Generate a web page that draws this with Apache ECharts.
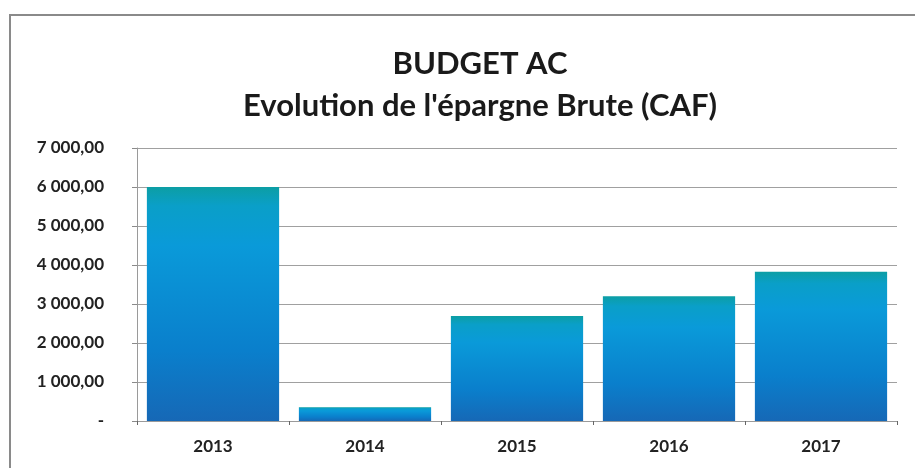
<!DOCTYPE html>
<html>
<head>
<meta charset="utf-8">
<script src="https://cdn.jsdelivr.net/npm/echarts@6/dist/echarts.min.js"></script>
<style>
  html, body { margin: 0; padding: 0; background: #fff; }
  .frame {
    position: absolute; left: 9px; top: 14px; width: 920px; height: 470px;
    border-left: 2px solid #8a8a8a; border-top: 2px solid #8a8a8a;
  }
  #chart { position: absolute; left: 0; top: 0; width: 915px; height: 468px; }
</style>
</head>
<body>
<div class="frame"></div>
<div id="chart"></div>
<script>
// données
const annees = ['2013', '2014', '2015', '2016', '2017']
const epargneBrute = [6000, 350, 2690, 3200, 3830]
const titreLignes = ['BUDGET AC', "Evolution de l'épargne Brute (CAF)"]

const formatMontant = function (v) {
  if (v === 0) return '-'
  const s = v.toFixed(2).split('.')
  return s[0].replace(/\B(?=(\d{3})+(?!\d))/g, ' ') + ',' + s[1]
}

const chart = echarts.init(document.getElementById('chart'))
chart.setOption({
  animation: false,
  title: {
    text: titreLignes.join('\n'),
    left: 475,
    textAlign: 'center',
    top: 38,
    textStyle: {
      fontFamily: 'Lato',
      fontWeight: 'bold',
      fontSize: 31,
      lineHeight: 42,
      color: '#1a1a1a'
    }
  },
  grid: { left: 137, right: 18, top: 148, bottom: 47 },
  xAxis: {
    type: 'category',
    data: annees,
    axisLine: { show: true, lineStyle: { color: '#9a9a9a', width: 1 } },
    axisTick: { show: true, length: 4, lineStyle: { color: '#666' } },
    axisLabel: {
      margin: 17,
      fontFamily: 'Lato',
      fontWeight: 'bold',
      fontSize: 17,
      color: '#222'
    }
  },
  yAxis: {
    type: 'value',
    min: 0,
    max: 7000,
    interval: 1000,
    axisLine: { show: true, lineStyle: { color: '#9a9a9a', width: 1 } },
    axisTick: { show: true, length: 5, lineStyle: { color: '#8a8a8a' } },
    splitLine: { lineStyle: { color: '#a0a0a0', width: 1 } },
    axisLabel: {
      margin: 33,
      formatter: formatMontant,
      fontFamily: 'Lato',
      fontWeight: 'bold',
      fontSize: 17,
      color: '#222'
    }
  },
  series: [{
    type: 'bar',
    data: epargneBrute,
    barCategoryGap: '13%',
    itemStyle: {
      color: new echarts.graphic.LinearGradient(0, 0, 0, 1, [
        {offset: 0, color: '#0c9ea4'},
        {offset: 0.08, color: '#0a9fc8'},
        {offset: 0.25, color: '#0a9ad9'},
        {offset: 0.7, color: '#0a7fcc'},
        {offset: 1, color: '#1668b6'}
      ])
    }
  }]
})
</script>
</body>
</html>
